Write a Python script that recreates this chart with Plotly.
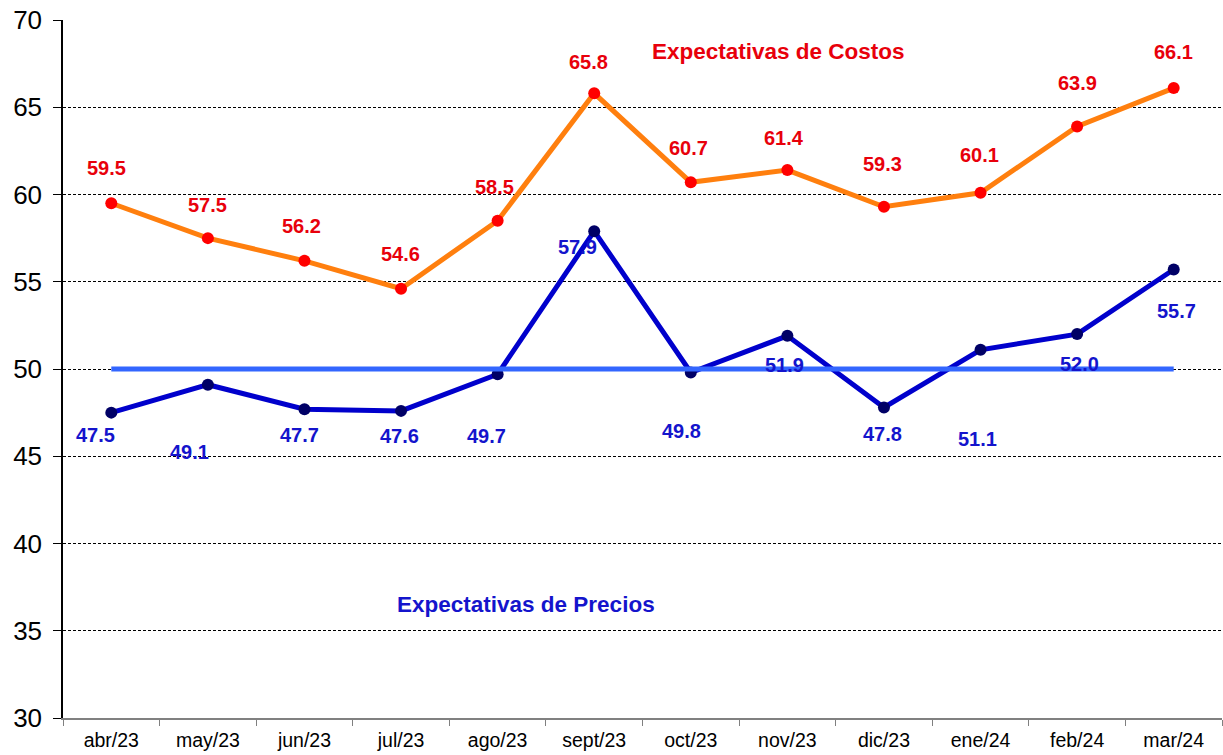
import plotly.graph_objects as go

months = ["abr/23", "may/23", "jun/23", "jul/23", "ago/23", "sept/23",
          "oct/23", "nov/23", "dic/23", "ene/24", "feb/24", "mar/24"]
costos = [59.5, 57.5, 56.2, 54.6, 58.5, 65.8, 60.7, 61.4, 59.3, 60.1, 63.9, 66.1]
precios = [47.5, 49.1, 47.7, 47.6, 49.7, 57.9, 49.8, 51.9, 47.8, 51.1, 52.0, 55.7]
umbral = 50
y_ticks = [30, 35, 40, 45, 50, 55, 60, 65, 70]

# label pixel offsets (dx, dy) relative to each point
costos_off = [(-5, 35), (0, 33), (-3, 35), (-1, 35), (-3, 34), (-6, 31),
              (-2, 34), (-3, 32), (-1, 43), (-1, 38), (0, 43), (0, 36)]
precios_off = [(-16, -22), (-18, -67), (-5, -26), (-2, -25), (-11, -62), (-17, -16),
               (-9, -59), (-3, -29), (-1, -27), (-3, -89), (2, -30), (3, -41)]

FONT = "Liberation Sans, Arial"

fig = go.Figure()

fig.add_trace(go.Scatter(
    x=months, y=costos, mode="lines+markers",
    line=dict(color="#FF7F0E", width=5),
    marker=dict(color="#FF0000", size=12),
    name="Expectativas de Costos", showlegend=False, hoverinfo="skip"))

fig.add_trace(go.Scatter(
    x=months, y=precios, mode="lines+markers",
    line=dict(color="#0000CC", width=5),
    marker=dict(color="#000066", size=12),
    name="Expectativas de Precios", showlegend=False, hoverinfo="skip"))

fig.add_trace(go.Scatter(
    x=[months[0], months[-1]], y=[umbral, umbral], mode="lines",
    line=dict(color="#3366FF", width=5),
    showlegend=False, hoverinfo="skip"))

for m, v, (dx, dy) in zip(months, costos, costos_off):
    fig.add_annotation(x=m, y=v, text=f"<b>{v:.1f}</b>", showarrow=False,
                       xshift=dx, yshift=dy,
                       font=dict(family=FONT, size=20, color="#E8000B"))
for m, v, (dx, dy) in zip(months, precios, precios_off):
    fig.add_annotation(x=m, y=v, text=f"<b>{v:.1f}</b>", showarrow=False,
                       xshift=dx, yshift=dy,
                       font=dict(family=FONT, size=20, color="#1414CC"))

fig.add_annotation(x=6.91, y=68.17, text="<b>Expectativas de Costos</b>", showarrow=False,
                   font=dict(family=FONT, size=22.5, color="#E8000B"))
fig.add_annotation(x=4.29, y=36.48, text="<b>Expectativas de Precios</b>", showarrow=False,
                   font=dict(family=FONT, size=22.5, color="#1414CC"))

fig.update_layout(
    width=1223, height=755,
    margin=dict(l=63, r=1, t=20, b=37),
    plot_bgcolor="white", paper_bgcolor="white",
    font=dict(family=FONT, color="black"),
    xaxis=dict(type="category", categoryorder="array", categoryarray=months,
               range=[-0.5, 11.5], tickson="boundaries", ticks="outside",
               ticklen=6, tickcolor="#808080", tickwidth=1, automargin=False,
               ticklabelstandoff=4,
               showline=True, linecolor="#808080", linewidth=2,
               showgrid=False, tickfont=dict(size=19.5, color="black")),
    yaxis=dict(range=[30, 70], tickvals=y_ticks, ticks="outside", ticklen=8,
               tickcolor="black", showline=True, linecolor="black", linewidth=1.5,
               automargin=False, ticklabelstandoff=6,
               showgrid=True, gridcolor="black", gridwidth=1, griddash="3px,2px",
               zeroline=False, tickfont=dict(size=26, color="black")),
)

fig.write_html("out.html", config={"displayModeBar": False},
               post_script="document.body.style.margin='0';document.body.style.overflow='hidden';")
